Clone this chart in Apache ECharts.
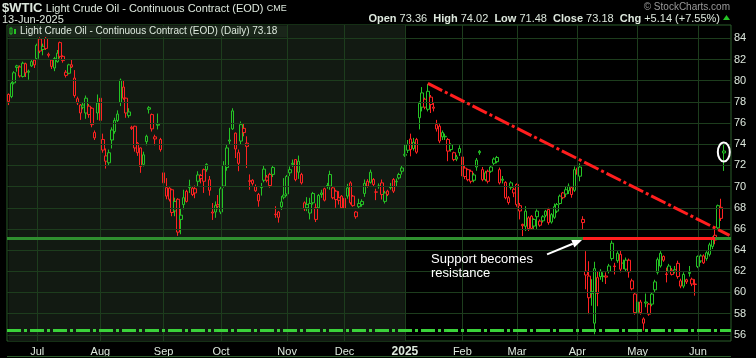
<!DOCTYPE html>
<html><head><meta charset="utf-8">
<script src="https://cdn.jsdelivr.net/npm/echarts@6/dist/echarts.min.js"></script>
<style>html,body{margin:0;padding:0;background:#000;}#c{width:756px;height:358px;}</style>
</head><body><div id="c"></div>
<script>
// ---------- DATA ----------
const HOLIDAYS = ['2024-06-19','2024-07-04','2024-09-02','2024-11-28','2024-12-25','2025-01-01','2025-01-09','2025-01-20','2025-02-17','2025-04-18','2025-05-26'];
function tradingDays(from, to) {
  const out = []; const d = new Date(from + 'T00:00:00Z'); const end = new Date(to + 'T00:00:00Z');
  while (d <= end) {
    const wd = d.getUTCDay(); const s = d.toISOString().slice(0, 10);
    if (wd !== 0 && wd !== 6 && HOLIDAYS.indexOf(s) < 0) out.push(s);
    d.setUTCDate(d.getUTCDate() + 1);
  }
  return out;
}
const dates = tradingDays('2024-06-14', '2025-06-13');
const padDates = ['2025-06-16', '2025-06-17'];

const open = [
 78.7,78.5,79.8,81.25,81.3,80.4,81.6,80.8,81.4,81.95,
 82.1,83.95,82.95,84.0,82.5,81.95,81.2,81.8,83.6,82.3,80.8,80.7,81.5,80.25,77.9,77.7,77.5,76.95,77.6,77.4,75.1,76.95,
 78.35,74.45,72.4,72.25,74.4,75.2,76.25,77.95,79.4,78.35,76.7,75.6,75.7,74.1,73.65,72.1,74.25,77.3,76.8,74.7,75.8,74.45,
 71.3,69.9,69.85,69.7,67.7,68.8,66.9,68.3,69.55,69.9,69.25,69.4,70.5,71.05,71.6,72.1,70.65,67.6,67.6,68.3,
 67.6,70.05,71.8,74.3,75.45,75.05,72.2,74.3,75.1,74.1,70.55,70.6,69.6,69.25,69.9,70.6,70.9,71.15,71.15,67.4,67.6,68.1,69.0,
 70.95,71.3,72.1,72.55,71.36,71.14,68.47,68.0,67.5,69.35,68.0,68.0,69.25,69.8,70.05,70.04,69.88,69.57,68.95,69.1,
 68.9,69.1,70.35,69.1,67.6,68.1,68.3,69.35,70.5,70.4,70.67,69.5,70.0,70.35,68.6,69.57,69.9,70.67,70.45,70.82,71.45,
 72.95,73.43,74.5,73.6,74.45,76.5,77.5,78.25,77.3,78.45,77.5,75.85,75.7,75.1,74.7,74.45,73.5,73.2,72.8,73.2,
 72.8,71.75,71.6,71.45,70.6,71.85,73.2,71.6,70.65,71.45,71.45,72.6,72.35,71.6,70.6,70.4,68.95,69.9,69.4,
 70.2,67.7,66.43,66.25,66.02,67.2,66.27,67.15,66.74,66.77,67.28,67.84,66.65,67.1,67.68,68.4,69.4,69.3,69.6,69.9,69.65,
 71.75,70.98,66.6,61.65,61.55,60.1,57.1,59.9,62.0,61.5,61.55,62.0,63.2,62.5,63.0,63.6,62.75,62.2,63.05,61.1,59.85,
 58.1,59.1,57.5,59.0,58.9,58.9,60.25,63.1,62.5,63.4,61.75,62.0,61.7,62.0,62.75,60.6,60.6,61.2,61.8,61.25,60.8,
 63.4,62.98,63.45,63.75,63.6,64.35,65.4,66.1,67.0,73.36
];
const high = [
 78.8,79.9,80.9,81.5,81.45,81.8,81.7,81.05,81.95,82.05,
 83.5,84.1,83.5,84.2,82.65,82.05,82.25,82.9,83.7,82.4,81.0,81.6,82.0,81.0,78.5,77.8,77.9,78.6,77.8,77.5,75.3,78.7,
 78.9,75.0,73.6,73.5,75.6,76.5,77.2,80.2,80.0,78.4,77.4,75.75,75.75,74.2,73.7,73.3,74.9,77.6,76.9,74.9,76.9,74.6,
 71.4,70.8,69.95,69.8,68.95,68.9,67.9,69.7,69.7,70.65,70.0,70.1,71.45,71.2,71.7,72.2,71.0,68.45,68.6,69.2,
 70.0,72.4,74.0,75.55,77.4,75.1,73.5,76.15,76.0,74.75,71.15,70.7,70.2,69.4,70.35,72.0,71.1,71.3,72.0,68.15,67.7,69.1,70.8,
 71.1,71.9,72.55,72.6,72.93,71.3,68.6,69.0,68.94,69.5,68.4,69.3,69.7,69.9,70.35,71.5,70.0,69.7,69.57,69.2,
 69.0,70.26,70.5,69.2,67.7,68.85,68.8,70.67,70.7,71.6,70.8,69.8,70.3,70.67,69.6,69.7,70.35,70.8,70.76,71.3,71.98,
 73.96,74.4,75.0,74.6,74.6,78.05,79.4,78.4,79.7,78.65,77.9,76.3,75.9,75.3,75.0,74.6,74.1,73.3,73.0,73.9,
 73.0,72.0,71.7,71.6,71.3,72.7,73.45,71.85,71.5,71.6,72.0,72.75,72.9,71.8,71.0,70.5,69.1,70.5,69.9,
 70.3,68.45,66.5,68.15,67.2,67.3,67.0,67.85,66.9,67.3,67.8,68.0,67.5,68.4,68.45,69.25,69.5,70.0,70.3,70.0,71.9,
 72.0,72.2,67.2,63.9,62.95,61.25,62.9,62.0,62.2,61.9,61.9,62.7,64.9,62.8,63.9,64.0,63.1,63.3,63.2,61.3,60.0,
 59.3,59.3,57.65,59.9,59.0,60.0,61.2,63.3,63.9,63.5,62.35,62.7,62.3,62.5,63.0,61.3,61.9,61.3,62.5,61.4,61.25,
 63.5,63.6,63.6,63.9,64.7,65.3,66.1,68.3,68.85,74.02
];
const low = [
 77.7,78.35,79.65,80.85,80.3,80.3,80.35,80.1,81.3,81.2,
 82.0,82.6,82.4,82.9,82.2,81.1,80.9,81.7,82.1,81.7,80.3,80.6,81.2,78.4,77.7,76.3,77.3,76.4,76.5,75.6,74.4,76.3,
 76.0,73.2,71.7,72.0,73.6,75.0,76.1,77.6,78.2,76.5,76.5,75.35,73.3,72.9,71.3,71.9,73.9,76.9,75.2,73.9,75.4,73.3,
 70.0,68.8,68.6,67.2,67.2,65.35,65.5,67.85,68.5,69.4,69.1,68.9,70.05,70.3,69.4,71.4,69.15,66.85,67.05,67.85,
 67.4,69.9,71.5,73.95,75.35,72.7,71.45,73.95,74.75,71.75,69.7,70.1,69.5,68.1,69.15,70.4,70.4,69.9,70.9,67.05,66.6,67.8,68.8,
 69.1,71.0,71.86,70.5,70.73,70.2,67.7,67.68,66.9,68.3,66.65,67.9,68.94,68.6,69.8,69.7,68.8,68.0,68.3,67.9,
 67.7,68.85,68.3,68.1,66.96,67.9,68.1,69.03,69.9,70.29,70.0,68.72,69.8,68.78,68.4,69.1,69.72,69.4,70.04,70.67,71.14,
 72.8,73.17,72.86,73.4,73.1,75.4,77.1,77.3,77.1,76.95,77.1,75.2,74.1,74.4,74.4,72.4,73.3,72.4,72.4,72.9,
 70.8,70.7,70.5,70.3,70.4,71.5,73.0,70.5,70.5,70.3,71.3,72.0,72.2,70.2,70.3,68.8,68.3,69.7,69.0,
 68.1,66.9,65.33,65.8,65.8,65.9,66.0,66.0,66.2,66.6,67.1,66.4,66.5,66.95,67.5,68.3,68.8,69.0,69.3,68.95,69.5,
 70.9,70.5,65.96,60.3,57.95,58.75,56.05,58.7,61.2,61.0,60.8,61.8,63.0,61.7,62.8,61.9,62.2,62.0,61.4,60.2,57.9,
 57.9,57.9,56.4,58.6,57.8,58.7,60.0,61.7,62.35,62.9,60.95,61.9,61.6,61.8,61.3,60.4,60.4,60.8,61.5,60.6,59.7,
 62.3,62.8,62.7,63.0,63.4,64.1,64.55,65.9,66.75,71.48
];
const close = [
 78.05,79.75,80.75,81.4,80.45,81.65,80.75,80.9,81.8,81.5,
 83.35,82.8,83.25,83.05,82.4,81.35,82.1,82.6,82.3,81.9,80.5,81.5,81.3,78.6,78.3,76.95,77.7,78.35,76.8,75.85,74.6,77.9,
 76.25,73.45,72.9,73.2,75.35,76.25,76.85,80.05,78.35,76.95,77.05,75.5,73.65,73.2,71.9,73.0,74.75,77.45,75.45,74.5,75.9,73.5,
 70.35,69.1,68.8,67.55,68.6,65.7,67.3,68.95,68.6,70.05,69.85,69.8,71.1,70.75,70.5,71.6,69.65,67.5,68.2,68.15,
 69.8,72.0,73.65,74.4,77.15,73.55,73.2,75.85,75.5,73.8,70.5,70.3,70.0,68.65,69.95,71.65,70.6,70.1,71.8,67.35,67.1,68.55,69.2,
 69.3,71.6,72.2,70.66,72.4,70.35,67.9,68.3,68.4,68.47,66.9,69.16,69.4,68.72,70.1,71.14,68.94,68.78,68.7,68.0,
 67.95,69.88,68.47,68.2,67.15,68.4,68.6,70.3,70.04,71.36,70.2,69.47,70.06,69.25,69.4,69.25,69.97,69.57,70.5,71.14,71.76,
 73.05,73.96,73.5,74.2,73.25,77.85,78.85,77.5,79.0,77.75,77.4,75.45,74.3,74.7,74.75,73.35,73.95,72.55,72.6,73.6,
 71.0,70.95,70.65,70.5,71.1,72.5,73.33,70.65,71.3,70.5,71.85,72.2,72.75,70.35,70.7,68.95,68.5,70.35,69.75,
 68.3,68.2,66.3,67.68,67.05,66.05,66.9,67.68,66.35,67.15,67.68,66.6,67.35,68.1,68.3,69.1,68.95,69.7,70.05,69.25,71.6,
 71.15,71.85,66.9,62.0,59.5,59.9,62.25,61.4,61.5,61.55,61.45,62.5,64.65,62.45,63.7,62.2,62.8,63.05,61.95,60.35,58.1,
 59.1,58.1,57.1,59.1,57.95,59.85,61.0,61.9,63.7,63.05,61.7,62.5,62.1,62.15,61.5,61.1,61.7,61.0,61.9,60.8,60.75,
 62.45,63.45,62.8,63.2,64.5,65.0,64.95,68.2,68.04,73.18
];
const firstPrevClose = 78.62;
const yTicks = [56,58,60,62,64,66,68,70,72,74,76,78,80,82,84];
const yMin = 55.416, yMax = 85.262;
const supportLevel = 65.15;          // green support line
const floorLevel = 56.4;             // green dash-dot floor
const resistStart = '2025-04-03', resistEnd = '2025-06-10';
const trendStart = ['2025-01-15', 79.75];
const trendEndValue = 65.4;          // at right edge of plot
const yearStart = '2025-01-02';
const monthNames = ['Jan','Feb','Mar','Apr','May','Jun','Jul','Aug','Sep','Oct','Nov','Dec'];

// ---------- BUILD ----------
const categories = dates.concat(padDates);
const N = dates.length;
const monthStart = [];
for (let i = 1; i < N; i++) if (dates[i].slice(5, 7) !== dates[i - 1].slice(5, 7)) monthStart.push(i);
const isMonthStart = {}; monthStart.forEach(i => isMonthStart[i] = true);

const GREEN = '#25c425', RED = '#ff2222';
const candleData = dates.map((d, i) => {
  const prev = i === 0 ? firstPrevClose : close[i - 1];
  const c = close[i] >= prev ? GREEN : RED;
  return { value: [open[i], close[i], low[i], high[i]],
    itemStyle: { color: 'transparent', color0: c, borderColor: c, borderColor0: c, borderWidth: 1 } };
});

const TXT = '#dde8dd', GRIDC = '#1d3d1d', BORDER = '#2b5e2b', SHADE = '#121a12';
const FONT = "'Liberation Sans', Arial, sans-serif";
const NARROW = "'Liberation Sans Narrow', 'Liberation Sans', Arial, sans-serif";

const chart = echarts.init(document.getElementById('c'));
const iYear = dates.indexOf(yearStart);
const option = {
  animation: false,
  backgroundColor: '#000',
  grid: { left: 7, right: 25, top: 25, bottom: 16, show: true, borderColor: BORDER, borderWidth: 1, backgroundColor: '#000' },
  xAxis: {
    type: 'category', data: categories, boundaryGap: true,
    axisLine: { show: false }, axisTick: { show: false }, splitLine: { show: false },
    axisLabel: {
      interval: (i) => !!isMonthStart[i], margin: 5, color: TXT, fontSize: 11, fontFamily: NARROW,
      formatter: (v) => { const m = +v.slice(5, 7); return m === 1 ? '{y|' + v.slice(0, 4) + '}' : monthNames[m - 1]; },
      rich: { y: { fontWeight: 'bold', fontSize: 12, color: TXT, fontFamily: NARROW } }
    }
  },
  yAxis: {
    type: 'value', position: 'right', min: yMin, max: yMax, scale: true,
    axisLine: { show: false }, axisTick: { show: false }, splitLine: { show: false },
    axisLabel: { customValues: yTicks, color: TXT, fontSize: 11, margin: 3, fontFamily: FONT }
  },
  series: [
    { // background shading + grid lines
      type: 'line', data: [], z: 1, silent: true,
      markArea: { silent: true, itemStyle: { color: SHADE }, data: [[{ xAxis: 0 }, { xAxis: iYear }]] },
      markLine: { silent: true, symbol: 'none', label: { show: false }, emphasis: { disabled: true },
        lineStyle: { color: GRIDC, width: 1, type: 'solid' },
        data: monthStart.map(i => ({ xAxis: i })).concat(yTicks.map(v => ({ yAxis: v }))) }
    },
    { // support lines
      type: 'line', data: [], z: 2, silent: true,
      markLine: { silent: true, symbol: 'none', label: { show: false }, emphasis: { disabled: true },
        data: [
          { yAxis: supportLevel, lineStyle: { color: '#2f8f2f', width: 3, type: 'solid' } },
          { yAxis: floorLevel, lineStyle: { color: '#3ad23a', width: 3, type: [14, 3, 3, 3] } },
          [{ coord: [resistStart, supportLevel], lineStyle: { color: '#ff1e1e', width: 3, type: 'solid' } }, { coord: [resistEnd, supportLevel] }]
        ] }
    },
    {
      type: 'candlestick', z: 3, barWidth: 3, data: candleData, emphasis: { disabled: true }, silent: true
    },
    { // trend line
      type: 'line', data: [], z: 4, silent: true,
      markLine: { silent: true, symbol: 'none', label: { show: false }, emphasis: { disabled: true },
        data: [[{ coord: trendStart, lineStyle: { color: '#ff1e1e', width: 3, type: [16, 3, 3, 3] } }, { coord: [categories.length - 1, trendEndValue] }]] }
    }
  ]
};
chart.setOption(option);

// ---------- ANNOTATIONS / HEADER ----------
const last = N - 1;
const chg = close[last] - close[last - 1];
const pct = chg / close[last - 1] * 100;
const px = (i, v) => chart.convertToPixel({ gridIndex: 0 }, [i, v]);
const tip = px(dates.indexOf(resistStart), supportLevel);
const ell = px(last, (open[last] + close[last]) / 2);
const ax = tip[0] - 1, ay = tip[1] + 2;
const tx = ax - 35, ty = ay + 14.5;
const dx = ax - tx, dy = ay - ty, L = Math.hypot(dx, dy), ux = dx / L, uy = dy / L;
const hb = [ax - 10 * ux, ay - 10 * uy];

chart.setOption({ graphic: [
  { type: 'text', left: 2, top: 2, style: { text: '{b|$WTIC} {n|Light Crude Oil - Continuous Contract (EOD)} {s|CME}', fill: TXT,
      rich: { b: { fontWeight: 'bold', fontSize: 13, fill: TXT, fontFamily: FONT }, n: { fontSize: 11, fill: TXT, fontFamily: FONT }, s: { fontSize: 9, fill: TXT, fontFamily: FONT } } } },
  { type: 'text', left: 2, top: 14, style: { text: '13-Jun-2025', fontSize: 11, fill: TXT, fontFamily: FONT } },
  { type: 'text', right: 756 - 720, top: 13, style: {
      text: '{b|Open} ' + open[last].toFixed(2) + '  {b|High} ' + high[last].toFixed(2) + '  {b|Low} ' + low[last].toFixed(2) +
            '  {b|Close} ' + close[last].toFixed(2) + '  {b|Chg} ' + (chg >= 0 ? '+' : '') + chg.toFixed(2) + ' (' + (pct >= 0 ? '+' : '') + pct.toFixed(2) + '%)',
      fontSize: 11, fill: TXT, fontFamily: FONT, rich: { b: { fontWeight: 'bold', fontSize: 11, fill: TXT, fontFamily: FONT } } } },
  { type: 'polygon', shape: { points: [[723, 20], [726.5, 15], [730, 20]] }, style: { fill: GREEN } },
  { type: 'text', right: 756 - 730, top: 2, style: { text: '© StockCharts.com', fontSize: 10, fill: '#9a9a9a', fontFamily: FONT } },
  // legend strip
  { type: 'rect', shape: { x: 8, y: 26, width: 279, height: 11 }, style: { fill: '#1a261a' }, z: 10 },
  { type: 'rect', shape: { x: 10, y: 28, width: 2, height: 6 }, style: { fill: 'none', stroke: GREEN, lineWidth: 1 }, z: 11 },
  { type: 'rect', shape: { x: 14, y: 29, width: 2, height: 5 }, style: { fill: GREEN }, z: 11 },
  { type: 'text', left: 20, top: 26, z: 11, style: { text: 'Light Crude Oil - Continuous Contract (EOD) (Daily) ' + close[last].toFixed(2), fontSize: 10, fill: TXT, fontFamily: FONT } },
  // annotation
  { type: 'text', left: 431, top: 252, z: 20, style: { text: 'Support becomes\nresistance', fontSize: 13, lineHeight: 14, fill: '#ffffff', fontFamily: FONT } },
  { type: 'line', z: 20, shape: { x1: tx, y1: ty, x2: hb[0], y2: hb[1] }, style: { stroke: '#fff', lineWidth: 2 } },
  { type: 'polygon', z: 20, shape: { points: [[ax, ay], [hb[0] + 4 * uy, hb[1] - 4 * ux], [hb[0] - 4 * uy, hb[1] + 4 * ux]] }, style: { fill: '#fff' } },
  { type: 'ellipse', z: 20, shape: { cx: ell[0], cy: ell[1], rx: 6, ry: 9.5 }, style: { fill: 'none', stroke: '#fff', lineWidth: 2 } },
  { type: 'line', z: 5, shape: { x1: 7, y1: 356.5, x2: 731, y2: 356.5 }, style: { stroke: BORDER, lineWidth: 1 } }
] });
</script>
</body></html>
